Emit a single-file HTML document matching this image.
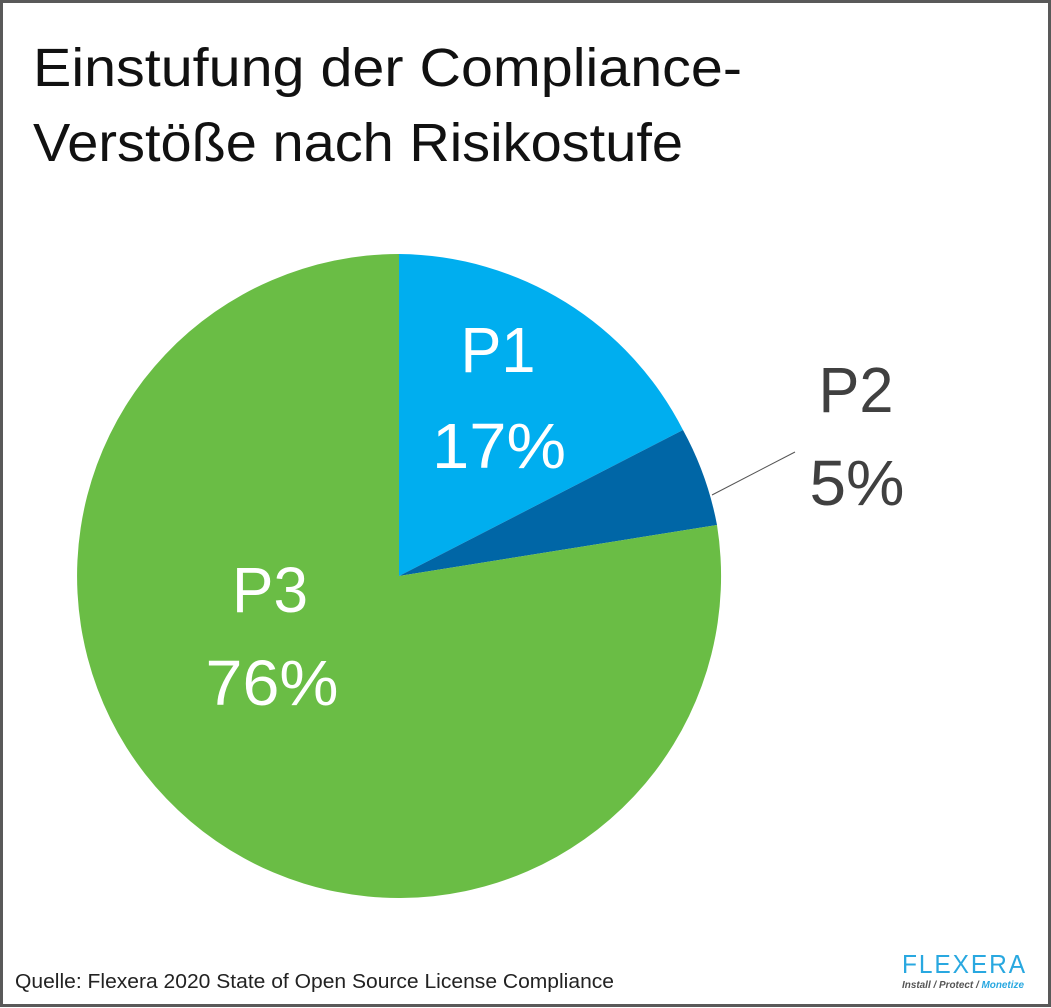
<!DOCTYPE html>
<html><head><meta charset="utf-8"><style>
html,body{margin:0;padding:0;background:#fff}
svg{display:block}
</style></head><body>
<svg width="1051" height="1008" xmlns="http://www.w3.org/2000/svg" font-family="Liberation Sans, sans-serif">
<rect x="0" y="0" width="1051" height="1008" fill="#fff"/>
<rect x="1.5" y="1.5" width="1048" height="1004" fill="none" stroke="#595959" stroke-width="3"/>
<text x="33" y="86" font-size="54" fill="#111" textLength="709" lengthAdjust="spacingAndGlyphs">Einstufung der Compliance-</text>
<text x="33" y="161" font-size="54" fill="#111" textLength="650" lengthAdjust="spacingAndGlyphs">Verstöße nach Risikostufe</text>
<path d="M399 576 L399 254 A322 322 0 0 1 683 430 Z" fill="#00AEEF"/>
<path d="M399 576 L683 430 A322 322 0 0 1 717 525 Z" fill="#0066A6"/>
<path d="M399 576 L717 525 A322 322 0 1 1 399 254 Z" fill="#6ABD45"/>
<line x1="712" y1="495" x2="795" y2="452" stroke="#555" stroke-width="1"/>
<g fill="#fff" font-size="64" text-anchor="middle">
<text x="498" y="372" textLength="75" lengthAdjust="spacingAndGlyphs">P1</text>
<text x="499" y="468" textLength="134" lengthAdjust="spacingAndGlyphs">17%</text>
<text x="270" y="612" textLength="76" lengthAdjust="spacingAndGlyphs">P3</text>
<text x="272" y="705" textLength="133" lengthAdjust="spacingAndGlyphs">76%</text>
</g>
<g fill="#404040" font-size="64" text-anchor="middle">
<text x="856" y="412" textLength="75" lengthAdjust="spacingAndGlyphs">P2</text>
<text x="857" y="505" textLength="95" lengthAdjust="spacingAndGlyphs">5%</text>
</g>
<text x="15" y="988" font-size="20" fill="#222" textLength="599" lengthAdjust="spacingAndGlyphs">Quelle: Flexera 2020 State of Open Source License Compliance</text>
<text x="902" y="973" font-size="26" fill="#29A8E0" textLength="125" lengthAdjust="spacingAndGlyphs" letter-spacing="2">FLEXERA</text>
<text x="902" y="988" font-size="10" font-style="italic" font-weight="bold" fill="#555" textLength="122" lengthAdjust="spacingAndGlyphs">Install / Protect / <tspan fill="#29A8E0">Monetize</tspan></text>
</svg>
</body></html>
